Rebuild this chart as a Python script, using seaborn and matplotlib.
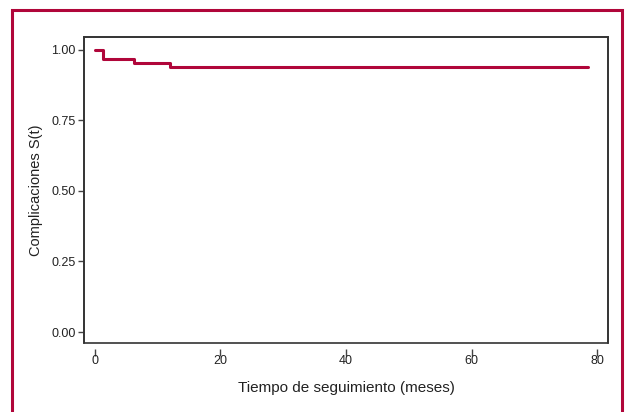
import pandas as pd
import matplotlib.pyplot as plt
import seaborn as sns
from matplotlib.patches import Rectangle

# --- Datos (curva de Kaplan-Meier) ---
tiempo = [0, 1.3, 6.2, 12.0, 78.5]
supervivencia = [1.000, 0.969, 0.953, 0.938, 0.938]
x_ticks = [0, 20, 40, 60, 80]
y_ticks = [0.00, 0.25, 0.50, 0.75, 1.00]

sns.set_theme(style="white")
plt.rcParams['font.family'] = ['Liberation Sans', 'DejaVu Sans']

rojo = '#b0063a'

df = pd.DataFrame({'Tiempo': tiempo, 'S': supervivencia})

fig = plt.figure(figsize=(6.26, 4.12), dpi=100)
ax = fig.add_axes([84 / 626, 1 - 343 / 412, (608 - 84) / 626, (343 - 37) / 412])

sns.lineplot(data=df, x='Tiempo', y='S', drawstyle='steps-post', color=rojo,
             linewidth=2.2, ax=ax)

ax.set_xlim(-1.75, 81.75)
ax.set_ylim(-0.039, 1.046)
ax.set_xticks(x_ticks)
ax.set_yticks(y_ticks)
ax.set_yticklabels([f'{v:.2f}' for v in y_ticks])
ax.tick_params(axis='both', direction='out', length=5, width=1, color='#444444',
               labelsize=9, labelcolor='#222222', pad=2)
ax.tick_params(axis='x', bottom=True, pad=0)
ax.tick_params(axis='y', left=True, length=4)

# el eje x tiene un pequeño hueco entre la caja y las marcas
ax.spines['bottom'].set_position(('outward', 4))
ax.spines['bottom'].set_visible(False)
for lado in ['top', 'left', 'right']:
    ax.spines[lado].set_color('#333333')
    ax.spines[lado].set_linewidth(1.2)
ax.add_patch(Rectangle((0, 0), 1, 1, transform=ax.transAxes, fill=False,
                       edgecolor='#333333', linewidth=1.2, clip_on=False, zorder=5))

ax.set_xlabel('Tiempo de seguimiento (meses)', fontsize=11, color='#222222', labelpad=10)
ax.set_ylabel('Complicaciones S(t)', fontsize=10.5, color='#222222', labelpad=6)

# marco rojo exterior
fig.patches.append(Rectangle((12 / 626, -0.05), (622 - 12) / 626, 1.05 - 10 / 412,
                             transform=fig.transFigure, fill=False, edgecolor=rojo,
                             linewidth=2.2, zorder=0))

plt.savefig('out.png', dpi=100)
